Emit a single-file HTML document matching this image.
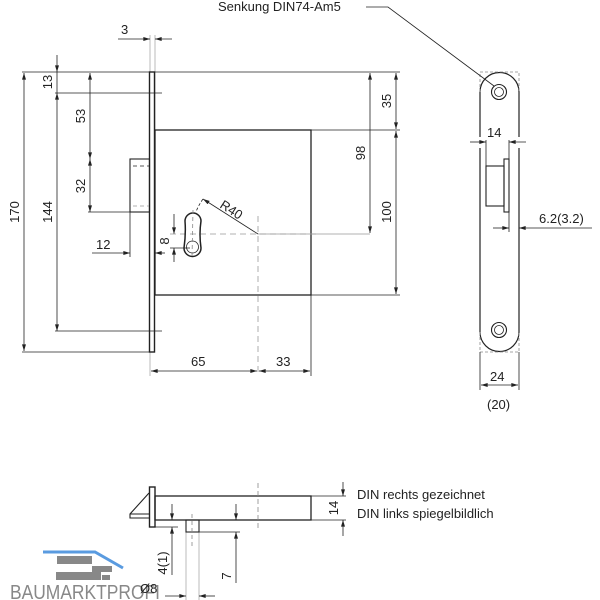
<!DOCTYPE html>
<html><head><style>body{margin:0;background:#fff}svg{display:block}text{font-family:"Liberation Sans",sans-serif;fill:#222}</style></head><body>
<svg width="600" height="600" viewBox="0 0 600 600" xmlns="http://www.w3.org/2000/svg">
<defs>
<marker id="a" viewBox="0 0 10 6" refX="10" refY="3" markerWidth="7" markerHeight="4" orient="auto-start-reverse" markerUnits="userSpaceOnUse"><path d="M0,0L10,3L0,6z" fill="#222"/></marker>
</defs>
<g stroke="#222" fill="none" stroke-width="0.8">
<g stroke="#aaa">
<line x1="150" y1="35" x2="150" y2="72"/><line x1="155" y1="35" x2="155" y2="130"/>
<line x1="150" y1="352" x2="150" y2="376"/>
<line x1="186" y1="532" x2="186" y2="600"/><line x1="199" y1="532" x2="199" y2="600"/>
</g>
<rect x="149.5" y="72" width="5" height="280" stroke-width="1.4"/>
<rect x="155" y="130" width="156" height="165" stroke-width="1.3"/>
<rect x="130" y="159" width="19.5" height="53" stroke-width="1.1"/>
<line x1="133" y1="166" x2="149" y2="166" stroke-dasharray="4 3"/>
<line x1="133" y1="206" x2="149" y2="206" stroke-dasharray="4 3" stroke="#999"/>
<line x1="22" y1="72" x2="149" y2="72"/><line x1="155" y1="72" x2="400" y2="72"/>
<line x1="22" y1="352" x2="149" y2="352"/>
<line x1="55" y1="93" x2="162" y2="93"/><line x1="55" y1="331" x2="162" y2="331"/>
<line x1="88" y1="212" x2="130" y2="212"/>
<line x1="311" y1="130" x2="400" y2="130"/><line x1="311" y1="295" x2="400" y2="295"/>
<line x1="311" y1="295" x2="311" y2="376"/>
<line x1="130" y1="212" x2="130" y2="257"/>
<line x1="24" y1="73" x2="24" y2="351" marker-start="url(#a)" marker-end="url(#a)"/>
<line x1="57" y1="55" x2="57" y2="72" marker-end="url(#a)"/>
<line x1="57" y1="93" x2="57" y2="331" marker-start="url(#a)" marker-end="url(#a)"/>
<line x1="57" y1="72" x2="57" y2="93"/>
<line x1="90" y1="73" x2="90" y2="159" marker-start="url(#a)" marker-end="url(#a)"/>
<line x1="90" y1="159" x2="90" y2="212" marker-start="url(#a)" marker-end="url(#a)"/>
<line x1="92" y1="253" x2="130" y2="253" marker-end="url(#a)"/>
<line x1="165" y1="253" x2="155" y2="253" marker-end="url(#a)"/>
<line x1="118" y1="39" x2="150" y2="39" marker-end="url(#a)"/>
<line x1="172" y1="39" x2="155" y2="39" marker-end="url(#a)"/>
<line x1="174" y1="214" x2="174" y2="234" marker-end="url(#a)"/>
<line x1="174" y1="262" x2="174" y2="248" marker-end="url(#a)"/>
<line x1="170" y1="248" x2="190" y2="248"/>
<line x1="151" y1="371" x2="257" y2="371" marker-start="url(#a)" marker-end="url(#a)"/>
<line x1="259" y1="371" x2="310" y2="371" marker-start="url(#a)" marker-end="url(#a)"/>
<line x1="396" y1="73" x2="396" y2="129" marker-start="url(#a)" marker-end="url(#a)"/>
<line x1="396" y1="131" x2="396" y2="294" marker-start="url(#a)" marker-end="url(#a)"/>
<line x1="370" y1="73" x2="370" y2="233" marker-start="url(#a)" marker-end="url(#a)"/>
<line x1="258" y1="234" x2="370" y2="234" stroke="#999"/>
<line x1="170" y1="234" x2="320" y2="234" stroke="#999" stroke-dasharray="6 4"/>
<line x1="258" y1="216" x2="258" y2="372" stroke="#999" stroke-dasharray="6 4"/>
<path d="M185,221 A8,8 0 0 1 201,221 Q199,234 201,248 A8.5,8.5 0 0 1 184,248 Q186,234 185,221 Z" stroke-width="1.5"/>
<circle cx="192.5" cy="247" r="6"/>
<line x1="193" y1="210" x2="192" y2="258" stroke="#888" stroke-dasharray="4 3"/>
<line x1="258" y1="234" x2="203" y2="199" marker-end="url(#a)"/>
<path d="M203,199 Q198,206 196,212" stroke-dasharray="3 2"/>
<path d="M480,92 A19.5,19.5 0 0 1 519,92 L519,137 M519,148 L519,332 A19.5,19.5 0 0 1 480,332 L480,148 M480,137 L480,92" stroke-width="1.2"/>
<path d="M480,92 L480,72 L519,72 L519,92 M480,332 L480,352 L519,352 L519,332" stroke="#888" stroke-dasharray="3 2"/>
<circle cx="499" cy="92" r="7.5" stroke-width="1.1"/><circle cx="499" cy="92" r="4.5"/>
<circle cx="499" cy="330" r="7.5" stroke-width="1.1"/><circle cx="499" cy="330" r="4.5"/>
<rect x="486" y="166" width="18" height="40" stroke-width="1.1"/>
<rect x="504" y="159" width="5" height="53" stroke-width="1.1"/>
<line x1="486" y1="140" x2="486" y2="166"/><line x1="509" y1="140" x2="509" y2="159"/>
<line x1="470" y1="142" x2="486" y2="142" marker-end="url(#a)"/>
<line x1="526" y1="142" x2="509" y2="142" marker-end="url(#a)"/>
<line x1="509" y1="212" x2="509" y2="232"/>
<line x1="493" y1="228" x2="509" y2="228" marker-end="url(#a)"/>
<line x1="592" y1="228" x2="519" y2="228" marker-end="url(#a)"/>
<line x1="480" y1="352" x2="480" y2="390"/><line x1="519" y1="352" x2="519" y2="390"/>
<line x1="481" y1="385" x2="518" y2="385" marker-start="url(#a)" marker-end="url(#a)"/>
<polyline points="366,7 388,7 494,86"/>
<rect x="149.5" y="487" width="5.5" height="40" stroke-width="1.4"/>
<rect x="155" y="496" width="156" height="24" stroke-width="1.3"/>
<path d="M149,493 L130,514 L130,518 L149,518 M130,514 L149,514" stroke-width="1.1"/>
<rect x="186" y="520" width="13" height="12" stroke-width="1.1"/>
<line x1="192" y1="514" x2="192" y2="548" stroke="#888" stroke-dasharray="4 3"/>
<line x1="258" y1="483" x2="258" y2="531" stroke="#888" stroke-dasharray="5 3"/>
<line x1="311" y1="496" x2="346" y2="496"/><line x1="311" y1="520" x2="346" y2="520"/>
<line x1="343" y1="482" x2="343" y2="496" marker-end="url(#a)"/>
<line x1="343" y1="536" x2="343" y2="520" marker-end="url(#a)"/>
<line x1="155" y1="527" x2="178" y2="527"/>
<line x1="172" y1="504" x2="172" y2="520" marker-end="url(#a)"/>
<line x1="172" y1="575" x2="172" y2="527" marker-end="url(#a)"/>
<line x1="199" y1="532" x2="240" y2="532"/>
<line x1="236" y1="504" x2="236" y2="520" marker-end="url(#a)"/>
<line x1="236" y1="583" x2="236" y2="532" marker-end="url(#a)"/>
<line x1="165" y1="596" x2="186" y2="596" marker-end="url(#a)"/>
<line x1="215" y1="596" x2="199" y2="596" marker-end="url(#a)"/>
</g>
<polyline points="43,552 95,552 123,568" fill="none" stroke="#5a9be0" stroke-width="3"/>
<g fill="#888"><rect x="57" y="556" width="35" height="8"/><rect x="92" y="566" width="20" height="6"/><rect x="56" y="572" width="45" height="8"/><rect x="102" y="575" width="8" height="5"/></g>
<text x="10" y="599" font-size="20" textLength="150" lengthAdjust="spacingAndGlyphs" style="fill:#888">BAUMARKTPROFI</text>
<g font-size="13">
<text x="218" y="11">Senkung DIN74-Am5</text>
<text x="121" y="34">3</text>
<text x="96" y="249">12</text>
<text x="191" y="366">65</text>
<text x="276" y="366">33</text>
<text x="487" y="137">14</text>
<text x="539" y="223">6.2(3.2)</text>
<text x="490" y="381">24</text>
<text x="487" y="409">(20)</text>
<text x="357" y="499">DIN rechts gezeichnet</text>
<text x="357" y="518">DIN links spiegelbildlich</text>
<text x="140" y="593">Ø8</text>
<text transform="translate(19,212) rotate(-90)" text-anchor="middle">170</text>
<text transform="translate(52,82) rotate(-90)" text-anchor="middle">13</text>
<text transform="translate(52,212) rotate(-90)" text-anchor="middle">144</text>
<text transform="translate(85,116) rotate(-90)" text-anchor="middle">53</text>
<text transform="translate(85,186) rotate(-90)" text-anchor="middle">32</text>
<text transform="translate(169,241) rotate(-90)" text-anchor="middle">8</text>
<text transform="translate(219,207) rotate(33)">R40</text>
<text transform="translate(365,153) rotate(-90)" text-anchor="middle">98</text>
<text transform="translate(391,101) rotate(-90)" text-anchor="middle">35</text>
<text transform="translate(391,212) rotate(-90)" text-anchor="middle">100</text>
<text transform="translate(338,508) rotate(-90)" text-anchor="middle">14</text>
<text transform="translate(167,563) rotate(-90)" text-anchor="middle">4(1)</text>
<text transform="translate(231,576) rotate(-90)" text-anchor="middle">7</text>
</g>
</svg>
</body></html>
